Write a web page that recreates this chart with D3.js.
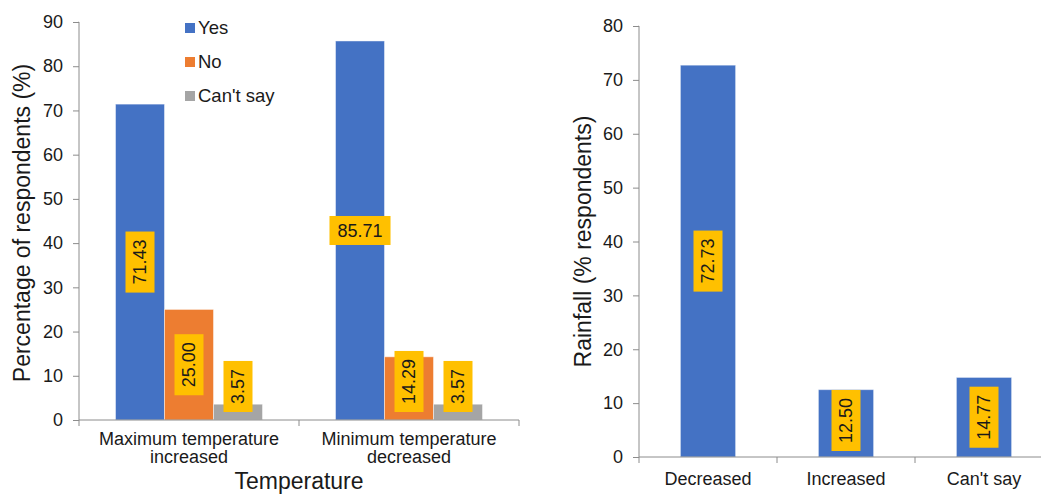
<!DOCTYPE html>
<html>
<head>
<meta charset="utf-8">
<script src="https://cdn.jsdelivr.net/npm/d3@7"></script>
<style>
  body { margin: 0; background: #fff; }
  svg { display: block; font-family: "Liberation Sans", Arial, sans-serif; }
  .axis path, .axis line { stroke: #8c8c8c; }
  .axis text { fill: #1a1a1a; font-size: 18px; }
</style>
</head>
<body>
<svg id="chart" width="1041" height="495"></svg>
<script>
// temperature panel
const tempCategories = [["Maximum temperature", "increased"], ["Minimum temperature", "decreased"]];
const tempSeries = ["Yes", "No", "Can't say"];
const tempYes = [71.43, 85.71];
const tempNo = [25.00, 14.29];
const tempCantSay = [3.57, 3.57];
const tempTicks = [0, 10, 20, 30, 40, 50, 60, 70, 80, 90];

// rainfall panel
const rainCategories = ["Decreased", "Increased", "Can't say"];
const rainValues = [72.73, 12.50, 14.77];
const rainTicks = [0, 10, 20, 30, 40, 50, 60, 70, 80];

const seriesColors = ["#4472c4", "#ed7d31", "#a5a5a5"];
const labelFill = "#ffc000";

const svg = d3.select("#chart");

// draws a yellow data label box, rotated unless horizontal is set
function dataLabel(g, cx, cy, text, horizontal) {
  const lg = g.append("g").attr("transform", `translate(${cx},${cy})` + (horizontal ? "" : " rotate(-90)"));
  const rect = lg.append("rect").attr("fill", labelFill);
  const t = lg.append("text")
    .attr("text-anchor", "middle")
    .attr("dy", "0.36em")
    .style("font-size", "18px")
    .attr("fill", "#1a1a1a")
    .text(text);
  const w = t.node().getComputedTextLength() + 16;
  const h = 29;
  rect.attr("x", -w / 2).attr("y", -h / 2).attr("width", w).attr("height", h);
  return w;
}

// ---------- left: temperature ----------
{
  const y = d3.scaleLinear().domain([0, 90]).range([420, 22]);
  const x = d3.scaleBand().domain(d3.range(tempCategories.length)).range([79, 519]);
  const xs = d3.scaleBand().domain(tempSeries).range([0, x.bandwidth()]).paddingOuter(0.745);
  const g = svg.append("g");

  const rows = [];
  tempCategories.forEach((c, i) => {
    [tempYes, tempNo, tempCantSay].forEach((arr, s) => {
      rows.push({ cat: i, series: tempSeries[s], color: seriesColors[s], value: arr[i] });
    });
  });

  g.selectAll("rect.bar").data(rows).enter().append("rect")
    .attr("class", "bar")
    .attr("x", d => x(d.cat) + xs(d.series))
    .attr("width", xs.bandwidth())
    .attr("y", d => y(d.value))
    .attr("height", d => y(0) - y(d.value))
    .attr("fill", d => d.color)
    .attr("stroke", "rgba(255,255,255,0.45)")
    .attr("stroke-width", 1);

  // y axis
  g.append("g").attr("class", "axis")
    .attr("transform", "translate(79,0)")
    .call(d3.axisLeft(y).tickValues(tempTicks).tickSize(6).tickPadding(10))
    .call(a => a.select(".domain").attr("d", `M-0.5,${y(90)}H0V${y(0)}`));

  // x axis line with category boundary ticks
  const xa = g.append("g").attr("class", "axis");
  xa.append("line").attr("x1", 79).attr("x2", 519).attr("y1", y(0)).attr("y2", y(0));
  [79, x(1), 519].forEach(v => {
    xa.append("line").attr("x1", v).attr("x2", v).attr("y1", y(0)).attr("y2", y(0) + 6);
  });
  tempCategories.forEach((lines, i) => {
    const t = g.append("text")
      .attr("text-anchor", "middle")
      .style("font-size", "18px")
      .attr("fill", "#1a1a1a");
    lines.forEach((ln, k) => {
      t.append("tspan").attr("x", x(i) + x.bandwidth() / 2).attr("y", 445 + k * 18).text(ln);
    });
  });

  // data labels
  rows.forEach(d => {
    const cx = x(d.cat) + xs(d.series) + xs.bandwidth() / 2;
    const horizontal = d.value > 80;
    const tmp = g.append("text").style("font-size", "18px").text(d.value.toFixed(2));
    const len = tmp.node().getComputedTextLength() + 16;
    tmp.remove();
    const half = horizontal ? 14.5 : len / 2;
    const cy = Math.min(y(d.value / 2), y(0) - 8 - half);
    dataLabel(g, cx, cy, d.value.toFixed(2), horizontal);
  });

  // legend
  const lg = g.append("g");
  tempSeries.forEach((s, i) => {
    lg.append("rect").attr("x", 185).attr("y", 23 + i * 34).attr("width", 10).attr("height", 10).attr("fill", seriesColors[i]);
    lg.append("text").attr("x", 198).attr("y", 34 + i * 34)
      .style("font-size", "18.5px").attr("fill", "#1a1a1a").text(s);
  });

  // titles
  g.append("text")
    .attr("transform", `translate(30,${(y(0) + y(90)) / 2 + 2}) rotate(-90)`)
    .attr("text-anchor", "middle")
    .style("font-size", "23px").attr("fill", "#1a1a1a")
    .text("Percentage of respondents (%)");
  g.append("text")
    .attr("x", 299).attr("y", 489)
    .attr("text-anchor", "middle")
    .style("font-size", "23px").attr("fill", "#1a1a1a")
    .text("Temperature");
}

// ---------- right: rainfall ----------
{
  const y = d3.scaleLinear().domain([0, 80]).range([457, 26]);
  const x = d3.scaleBand().domain(rainCategories).range([639, 1053]).paddingInner(0.6).paddingOuter(0.3);
  const g = svg.append("g");

  g.selectAll("rect.bar").data(rainValues).enter().append("rect")
    .attr("class", "bar")
    .attr("x", (d, i) => x(rainCategories[i]))
    .attr("width", x.bandwidth())
    .attr("y", d => y(d))
    .attr("height", d => y(0) - y(d))
    .attr("fill", seriesColors[0])
    .attr("stroke", "rgba(255,255,255,0.45)")
    .attr("stroke-width", 1);

  g.append("g").attr("class", "axis")
    .attr("transform", "translate(639,0)")
    .call(d3.axisLeft(y).tickValues(rainTicks).tickSize(6).tickPadding(10))
    .call(a => a.select(".domain").attr("d", `M-0.5,${y(80)}H0V${y(0)}`));

  const xa = g.append("g").attr("class", "axis");
  xa.append("line").attr("x1", 639).attr("x2", 1053).attr("y1", y(0)).attr("y2", y(0));
  const step = x.step();
  [0, 1, 2, 3].forEach(k => {
    const v = 639 + k * step;
    xa.append("line").attr("x1", v).attr("x2", v).attr("y1", y(0)).attr("y2", y(0) + 6);
  });
  rainCategories.forEach(c => {
    g.append("text")
      .attr("x", x(c) + x.bandwidth() / 2).attr("y", 485)
      .attr("text-anchor", "middle")
      .style("font-size", "18px").attr("fill", "#1a1a1a")
      .text(c);
  });

  rainValues.forEach((v, i) => {
    const cx = x(rainCategories[i]) + x.bandwidth() / 2;
    const tmp = g.append("text").style("font-size", "18px").text(v.toFixed(2));
    const len = tmp.node().getComputedTextLength() + 16;
    tmp.remove();
    const cy = Math.min(y(v / 2), y(0) - 6 - len / 2);
    dataLabel(g, cx, cy, v.toFixed(2), false);
  });

  g.append("text")
    .attr("transform", `translate(591,${(y(0) + y(80)) / 2}) rotate(-90)`)
    .attr("text-anchor", "middle")
    .style("font-size", "23px").attr("fill", "#1a1a1a")
    .text("Rainfall (% respondents)");
}
</script>
</body>
</html>
